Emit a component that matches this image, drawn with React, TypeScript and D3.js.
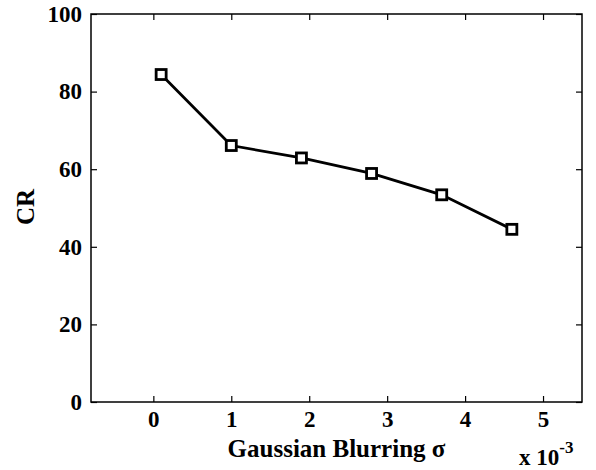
import React, { useEffect, useRef } from 'react';
import * as d3 from 'd3';

const sigmaValues = [0.1, 1, 1.9, 2.8, 3.7, 4.6];
const crValues = [84.4, 66.1, 62.9, 58.9, 53.4, 44.5];
const xTicks = [0, 1, 2, 3, 4, 5];
const yTicks = [0, 20, 40, 60, 80, 100];

const App: React.FC = () => {
  const svgRef = useRef<SVGSVGElement>(null);

  useEffect(() => {
    if (!svgRef.current) return;
    const W = 596;
    const H = 470;
    const margin = { top: 14, right: 14, bottom: 68, left: 91 };
    const width = W - margin.left - margin.right;
    const height = H - margin.top - margin.bottom;
    const font = '"Liberation Serif", "Times New Roman", serif';

    const svg = d3.select(svgRef.current);
    svg.selectAll('*').remove();
    svg.attr('width', W).attr('height', H);

    const g = svg.append('g').attr('transform', `translate(${margin.left},${margin.top})`);

    const x = d3.scaleLinear().domain([-0.8, 5.5]).range([0, width]);
    const y = d3.scaleLinear().domain([0, 100]).range([height, 0]);

    const styleAxis = (sel: any, showText: boolean) => {
      sel.select('.domain').remove();
      sel.selectAll('line').attr('stroke', '#000').attr('stroke-width', 1.2);
      sel.selectAll('text')
        .attr('fill', showText ? '#000' : 'none')
        .style('font-family', font)
        .style('font-weight', 'bold')
        .style('font-size', '23px');
    };

    // bottom axis (ticks inward)
    g.append('g')
      .attr('transform', `translate(0,${height})`)
      .call(d3.axisBottom(x).tickValues(xTicks).tickSize(-6).tickPadding(9).tickFormat(d3.format('d')))
      .call((s: any) => styleAxis(s, true));
    // top mirror
    g.append('g')
      .call(d3.axisTop(x).tickValues(xTicks).tickSize(-6).tickFormat(() => ''))
      .call((s: any) => styleAxis(s, false));
    // left axis
    g.append('g')
      .call(d3.axisLeft(y).tickValues(yTicks).tickSize(-6).tickPadding(9).tickFormat(d3.format('d')))
      .call((s: any) => styleAxis(s, true));
    // right mirror
    g.append('g')
      .attr('transform', `translate(${width},0)`)
      .call(d3.axisRight(y).tickValues(yTicks).tickSize(-6).tickFormat(() => ''))
      .call((s: any) => styleAxis(s, false));

    // box
    g.append('rect')
      .attr('x', 0).attr('y', 0).attr('width', width).attr('height', height)
      .attr('fill', 'none').attr('stroke', '#000').attr('stroke-width', 1.5);

    const pts = sigmaValues.map((s, i) => [s, crValues[i]] as [number, number]);

    const line = d3.line<[number, number]>()
      .x(d => x(d[0]))
      .y(d => y(d[1]));

    g.append('path')
      .datum(pts)
      .attr('d', line)
      .attr('fill', 'none')
      .attr('stroke', '#000')
      .attr('stroke-width', 2.8);

    const ms = 10;
    g.selectAll('.marker')
      .data(pts)
      .enter().append('rect')
      .attr('class', 'marker')
      .attr('x', d => x(d[0]) - ms / 2)
      .attr('y', d => y(d[1]) - ms / 2)
      .attr('width', ms)
      .attr('height', ms)
      .attr('fill', '#fff')
      .attr('stroke', '#000')
      .attr('stroke-width', 2.8);

    // x label
    svg.append('text')
      .attr('x', margin.left + width / 2)
      .attr('y', 457)
      .attr('text-anchor', 'middle')
      .style('font-family', font)
      .style('font-weight', 'bold')
      .style('font-size', '25px')
      .text('Gaussian Blurring σ');

    // y label
    svg.append('text')
      .attr('transform', `translate(34,207) rotate(-90)`)
      .attr('text-anchor', 'middle')
      .style('font-family', font)
      .style('font-weight', 'bold')
      .style('font-size', '25px')
      .text('CR');

    // exponent
    const ex = svg.append('text')
      .attr('x', 519)
      .attr('y', 465)
      .style('font-family', font)
      .style('font-weight', 'bold')
      .style('font-size', '23px');
    ex.append('tspan').text('x 10');
    ex.append('tspan').attr('dy', -12).style('font-size', '17px').text('-3');
  }, []);

  return (
    <svg ref={svgRef} style={{ position: 'absolute', left: 0, top: 0, background: '#fff' }}></svg>
  );
};

export default App;
